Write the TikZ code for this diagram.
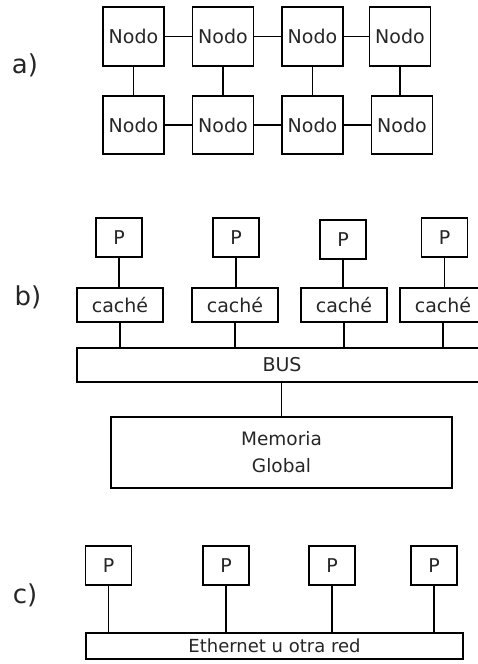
\documentclass[tikz,border=0pt]{standalone}
\usepackage{fontspec}
\setmainfont{DejaVu Sans}
\begin{document}
\begin{tikzpicture}[x=1pt,y=-1pt,
  box/.style={draw,line width=1.4pt,inner sep=0pt,anchor=center,text=black!85,font=\fontsize{19}{23}\selectfont},
  link/.style={line width=1.4pt},
  lbl/.style={inner sep=0pt,anchor=center,text=black!85,font=\fontsize{26}{30}\selectfont}]
\clip (0,0) rectangle (478,664);
\fill[white] (0,0) rectangle (478,664);
% a)
\node[lbl] (la) at (25,65) {a)};
\foreach \i/\x in {1/133.5,2/223,3/312.5,4/400}{
  \node[box,minimum width=61pt,minimum height=59pt] (t\i) at (\x,36.5) {Nodo};}
\foreach \i/\x in {1/133.5,2/223,3/312.5,4/402}{
  \node[box,minimum width=61pt,minimum height=58pt] (u\i) at (\x,125) {Nodo};}
\draw[link] (t1) -- (t2); \draw[link] (t2) -- (t3); \draw[link] (t3) -- (t4);
\draw[link] (u1) -- (u2); \draw[link] (u2) -- (u3); \draw[link] (u3) -- (u4);
\foreach \i in {1,2,3,4}{\draw[link] (t\i.south) -- (t\i.south |- u\i.north);}
% b)
\node[lbl] (lb) at (28,297) {b)};
\foreach \i/\x/\y in {1/119/237.5,2/236/237.5,3/343/239.5,4/444.5/237.5}{
  \node[box,minimum width=46pt,minimum height=39pt] (p\i) at (\x,\y) {P};}
\foreach \i/\x in {1/120,2/235,3/344,4/443}{
  \node[box,minimum width=86pt,minimum height=34pt] (c\i) at (\x,305) {caché};}
\node[box,minimum width=410pt,minimum height=34pt] (bus) at (282,365) {BUS};
\node[box,minimum width=341pt,minimum height=71pt,align=center,font=\fontsize{18.5}{27}\selectfont] (mem) at (281.5,452.5) {Memoria\\Global};
\foreach \i in {1,2,3,4}{
  \draw[link] (p\i.south) -- (p\i.south |- c\i.north);
  \draw[link] (c\i.south) -- (c\i.south |- bus.north);}
\draw[link] (mem.north) -- (mem.north |- bus.south);
% c)
\node[lbl] (lc) at (25,595) {c)};
\foreach \i/\x in {1/108.5,2/226,3/332,4/434}{
  \node[box,minimum width=46pt,minimum height=39pt] (q\i) at (\x,565.5) {P};}
\node[box,minimum width=377pt,minimum height=26pt,font=\fontsize{18}{22}\selectfont] (eth) at (274.5,646) {Ethernet u otra red};
\foreach \i in {1,2,3,4}{\draw[link] (q\i.south) -- (q\i.south |- eth.north);}
\end{tikzpicture}
\end{document}
